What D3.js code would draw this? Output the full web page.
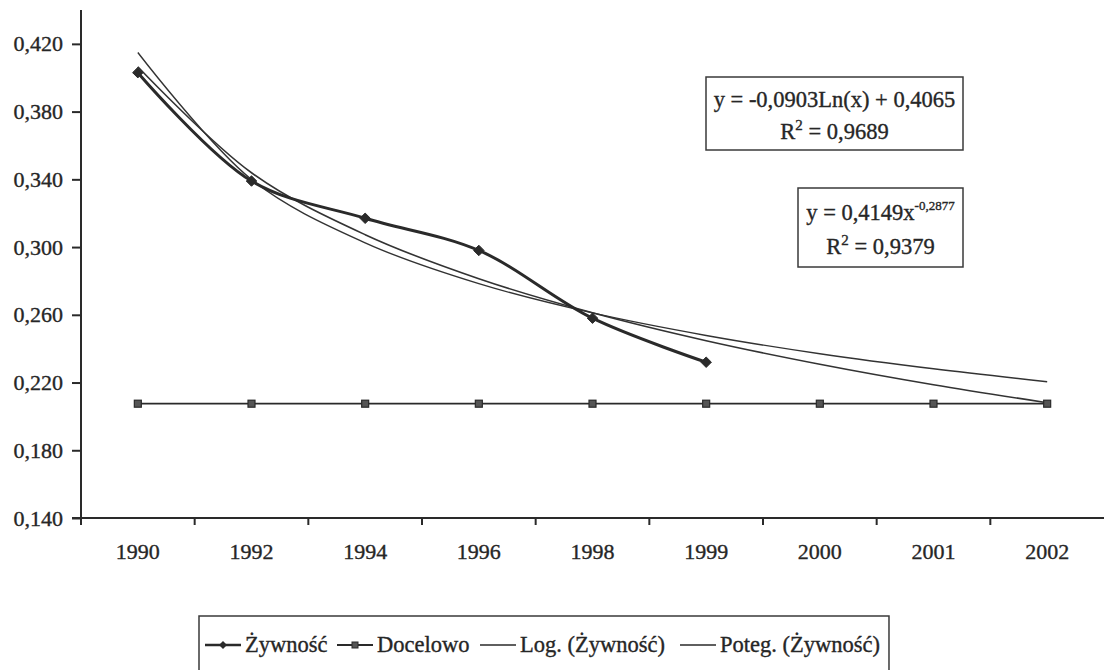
<!DOCTYPE html>
<html>
<head>
<meta charset="utf-8">
<script src="https://cdn.jsdelivr.net/npm/d3@7/dist/d3.min.js"></script>
<style>
  html, body { margin: 0; padding: 0; background: #fff; }
  svg { display: block; }
  text { font-family: "Liberation Serif", "Times New Roman", serif; fill: #262626; stroke: #262626; stroke-width: 0.35px; }
</style>
</head>
<body>
<svg id="chart" width="1105" height="670"></svg>
<script>
// ---- data ----
const categories = ["1990", "1992", "1994", "1996", "1998", "1999", "2000", "2001", "2002"];
const zywnosc = [0.403, 0.339, 0.317, 0.298, 0.258, 0.232, null, null, null];
const docelowo = [0.2075, 0.2075, 0.2075, 0.2075, 0.2075, 0.2075, 0.2075, 0.2075, 0.2075];
const logTrend = [0.4065, 0.3439, 0.3073, 0.2813, 0.2612, 0.2447, 0.2308, 0.2187, 0.2081];
const powTrend = [0.4149, 0.3399, 0.3025, 0.2784, 0.2611, 0.2478, 0.2370, 0.2281, 0.2205];
const yTicks = [0.14, 0.18, 0.22, 0.26, 0.30, 0.34, 0.38, 0.42];
const yDomain = [0.14, 0.44];
const legendLabels = ["Żywność", "Docelowo", "Log. (Żywność)", "Poteg. (Żywność)"];
const eqLog = ["y = -0,0903Ln(x) + 0,4065", "0,9689"];
const eqPow = ["y = 0,4149x", "-0,2877", "0,9379"];

(function () {
// ---- layout ----
const svg = d3.select("#chart");
const ink = "#2a2a2a";
const pL = 81, pR = 1104, pT = 10, pB = 518;

const x = d3.scaleBand().domain(categories).range([pL, pR]).padding(0);
const y = d3.scaleLinear().domain(yDomain).range([pB, pT]);
const cx = c => x(c) + x.bandwidth() / 2;

// y axis
const yAxis = svg.append("g").attr("transform", `translate(${pL},0)`)
  .call(d3.axisLeft(y).tickValues(yTicks).tickSize(9).tickPadding(9)
    .tickFormat(d => d3.format(".3f")(d).replace(".", ",")));
yAxis.select(".domain").attr("stroke", ink).attr("stroke-width", 2)
  .attr("d", `M0,${pT}V${pB}`);
yAxis.selectAll(".tick line").attr("stroke", ink).attr("stroke-width", 2);
yAxis.selectAll(".tick text").attr("font-size", 22).attr("fill", ink)
  .style("font-family", '"Liberation Serif", serif');

// x axis
const xAxis = svg.append("g").attr("transform", `translate(0,${pB})`)
  .call(d3.axisBottom(x).tickSize(0).tickPadding(25));
xAxis.select(".domain").attr("stroke", ink).attr("stroke-width", 2.2)
  .attr("d", `M${pL - 9},0H${pR}`);
xAxis.selectAll(".tick text").attr("font-size", 22).attr("fill", ink)
  .style("font-family", '"Liberation Serif", serif');
// boundary ticks between categories
xAxis.selectAll(".bt").data(categories).enter().append("line")
  .attr("x1", d => x(d)).attr("x2", d => x(d))
  .attr("y1", 0).attr("y2", 7)
  .attr("stroke", ink).attr("stroke-width", 2);

// lines
const lineGen = arr => d3.line()
  .defined(d => d[1] != null)
  .x(d => cx(d[0])).y(d => y(d[1]))
  .curve(d3.curveCatmullRom.alpha(0.5))(categories.map((c, i) => [c, arr[i]]));

svg.append("path").attr("d", lineGen(logTrend)).attr("fill", "none")
  .attr("stroke", "#333").attr("stroke-width", 1.6);
svg.append("path").attr("d", lineGen(powTrend)).attr("fill", "none")
  .attr("stroke", "#333").attr("stroke-width", 1.4);

svg.append("path").attr("d", d3.line().x(d => cx(d[0])).y(d => y(d[1]))(categories.map((c, i) => [c, docelowo[i]])))
  .attr("fill", "none").attr("stroke", ink).attr("stroke-width", 1.8);
svg.selectAll(".sq").data(categories).enter().append("rect")
  .attr("x", c => cx(c) - 3.5).attr("y", (c, i) => y(docelowo[i]) - 3.5)
  .attr("width", 7).attr("height", 7)
  .attr("fill", "#555").attr("stroke", ink).attr("stroke-width", 1.2);

svg.append("path").attr("d", lineGen(zywnosc)).attr("fill", "none")
  .attr("stroke", ink).attr("stroke-width", 3);
const diamond = d3.symbol().type(d3.symbolDiamond2).size(70);
svg.selectAll(".dm").data(categories.filter((c, i) => zywnosc[i] != null)).enter().append("path")
  .attr("d", diamond)
  .attr("transform", (c) => `translate(${cx(c)},${y(zywnosc[categories.indexOf(c)])})`)
  .attr("fill", ink).attr("stroke", ink).attr("stroke-width", 1);

// equation boxes
function eqBox(x0, y0, w, h) {
  svg.append("rect").attr("x", x0).attr("y", y0).attr("width", w).attr("height", h)
    .attr("fill", "#fff").attr("stroke", "#3a3a3a").attr("stroke-width", 1.5);
}
eqBox(706, 77, 257, 73);
svg.append("text").attr("x", 834.5).attr("y", 107).attr("text-anchor", "middle")
  .attr("font-size", 22.5).text(eqLog[0]);
const r1 = svg.append("text").attr("x", 834.5).attr("y", 139).attr("text-anchor", "middle").attr("font-size", 22.5);
r1.append("tspan").text("R");
r1.append("tspan").attr("dy", -9).attr("font-size", 15).text("2");
r1.append("tspan").attr("dy", 9).text(" = " + eqLog[1]);

eqBox(798, 188, 165, 79);
const p1 = svg.append("text").attr("x", 880.5).attr("y", 220).attr("text-anchor", "middle").attr("font-size", 22.5);
p1.append("tspan").text(eqPow[0]);
p1.append("tspan").attr("dy", -10).attr("font-size", 13).text(eqPow[1]);
const r2 = svg.append("text").attr("x", 880.5).attr("y", 254).attr("text-anchor", "middle").attr("font-size", 22.5);
r2.append("tspan").text("R");
r2.append("tspan").attr("dy", -9).attr("font-size", 15).text("2");
r2.append("tspan").attr("dy", 9).text(" = " + eqPow[2]);

// legend
const lg = svg.append("g");
const box = lg.append("rect").attr("x", 199).attr("y", 616).attr("height", 80)
  .attr("fill", "#fff").attr("stroke", "#3a3a3a").attr("stroke-width", 1.5);
const lx = [205, 337, 480, 680];
const ly = 645;
let endX = 0;
legendLabels.forEach((lab, i) => {
  const x0 = lx[i];
  lg.append("line").attr("x1", x0).attr("x2", x0 + 36).attr("y1", ly).attr("y2", ly)
    .attr("stroke", ink).attr("stroke-width", i === 0 ? 2.6 : (i === 1 ? 2 : 1.6));
  if (i === 0) lg.append("path").attr("d", d3.symbol().type(d3.symbolDiamond2).size(40))
    .attr("transform", `translate(${x0 + 18},${ly})`).attr("fill", ink);
  if (i === 1) lg.append("rect").attr("x", x0 + 15).attr("y", ly - 3).attr("width", 6).attr("height", 6).attr("fill", "#555").attr("stroke", ink);
  const t = lg.append("text").attr("x", x0 + 40).attr("y", ly + 7).attr("font-size", 22.5).text(lab);
  endX = x0 + 40 + t.node().getComputedTextLength();
});
box.attr("width", endX + 9 - 199);
})();
</script>
</body>
</html>
